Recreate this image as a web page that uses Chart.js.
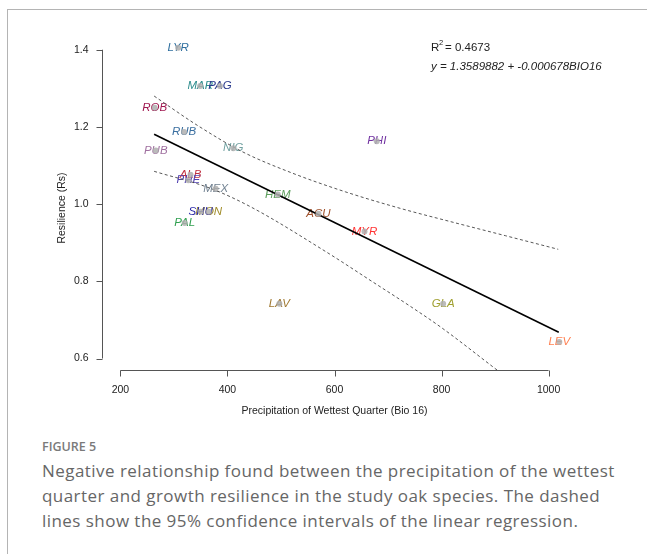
<!DOCTYPE html>
<html>
<head>
<meta charset="utf-8">
<script src="https://cdn.jsdelivr.net/npm/chart.js@4"></script>
<style>
  body { margin:0; background:#fff; }
  #wrap { position:relative; width:647px; height:554px; overflow:hidden; }
  #frame { position:absolute; left:7px; top:9px; width:660px; height:600px;
           border-top:1px solid #b4b4b4; border-left:1px solid #b4b4b4; }
  #canv { position:absolute; left:0; top:0; }
  #figno { position:absolute; left:42px; top:439px; font:600 12.5px "Open Sans"; line-height:16px; color:#7a7a7a; }
  #cap { position:absolute; left:42px; top:458px; width:584px; font:400 17px "Open Sans"; letter-spacing:0.45px;
         line-height:25px; color:#666; }
</style>
</head>
<body>
<div id="wrap">
  <div id="frame"></div>
  <canvas id="canv" width="647" height="430"></canvas>
  <div id="figno">FIGURE 5</div>
  <div id="cap">Negative relationship found between the precipitation of the wettest quarter and growth resilience in the study oak species. The dashed lines show the 95% confidence intervals of the linear regression.</div>
</div>
<script>
	// ******************************************************** DATA
	var species  = [ "LYR","MAR","PAG","ROB","RUB","PUB","NIG","PHI","ALB","PHE","MEX","HEM","ACU","MYR","MON","SHU","PAL","LAV","GLA","LEV" ];
	var bio16    = [ 308, 349, 386, 264, 319, 266, 411, 679, 331, 327, 378, 494, 570, 656, 365, 350, 320, 497, 803, 1020 ];
	var resil    = [ 1.405, 1.306, 1.306, 1.250, 1.187, 1.139, 1.145, 1.163, 1.076, 1.062, 1.040, 1.025, 0.975, 0.929, 0.980, 0.980, 0.951, 0.742, 0.742, 0.643 ];
	var colours  = [ "#2f6f9f","#2b8c8c","#28388c","#a01850","#3b6fa0","#a070a0","#6f9f9f","#7030a0","#c03040","#5040b0",
	                 "#708090","#5fa05f","#a0522d","#ff3333","#a08c28","#2828a8","#30a050","#a07830","#a0a030","#ff7f50" ];

	var fitX     = [ 263, 1019 ];
	var fitY     = [ 1.181, 0.668 ];
	var upperX   = [ 263, 345, 429, 520, 620, 723, 816, 920, 1018 ];
	var upperY   = [ 1.280, 1.203, 1.135, 1.081, 1.032, 0.989, 0.955, 0.918, 0.883 ];
	var lowerX   = [ 263, 368, 442, 586, 672, 742, 800, 904 ];
	var lowerY   = [ 1.085, 1.041, 0.994, 0.875, 0.798, 0.735, 0.680, 0.570 ];

	var xTicks   = [ 200, 400, 600, 800, 1000 ];
	var yTicks   = [ 0.6, 0.8, 1.0, 1.2, 1.4 ];
	var yTickLab = [ "0.6", "0.8", "1.0", "1.2", "1.4" ];

	function pts(xs, ys) { return xs.map(function(x, i){ return { x: x, y: ys[i] }; }); }

	// ******************************************************** PLUGINS

	var speciesLabels = {
		id: 'speciesLabels',
		beforeDatasetsDraw: function(chart) {
			var ctx = chart.ctx, meta = chart.getDatasetMeta(0);
			ctx.save();
			ctx.font = 'italic 11.5px "Liberation Sans"';
			ctx.textAlign = 'center';
			ctx.textBaseline = 'middle';
			meta.data.forEach(function(el, i) {
				ctx.fillStyle = colours[i];
				ctx.fillText(species[i], el.x, el.y);
			});
			ctx.restore();
		}
	};

	var rAxes = {
		id: 'rAxes',
		afterDraw: function(chart) {
			var ctx = chart.ctx, xs = chart.scales.x, ys = chart.scales.y;
			var x0 = Math.round(chart.chartArea.left + 2.7) + 0.5;
			var y0 = Math.round(chart.chartArea.bottom - 3.8) + 0.5;
			ctx.save();
			ctx.strokeStyle = '#555';
			ctx.lineWidth = 1;
			ctx.fillStyle = '#222';
			ctx.font = '10.5px "Liberation Sans"';

			// y axis
			ctx.beginPath();
			ctx.moveTo(x0, ys.getPixelForValue(yTicks[0]));
			ctx.lineTo(x0, ys.getPixelForValue(yTicks[yTicks.length - 1]));
			yTicks.forEach(function(t) {
				var py = Math.round(ys.getPixelForValue(t)) + 0.5;
				ctx.moveTo(x0, py); ctx.lineTo(x0 - 6, py);
			});
			ctx.stroke();
			ctx.textAlign = 'right'; ctx.textBaseline = 'middle';
			yTicks.forEach(function(t, i) {
				ctx.fillText(yTickLab[i], x0 - 14, ys.getPixelForValue(t));
			});

			// x axis
			ctx.beginPath();
			ctx.moveTo(xs.getPixelForValue(xTicks[0]), y0);
			ctx.lineTo(xs.getPixelForValue(xTicks[xTicks.length - 1]), y0);
			xTicks.forEach(function(t) {
				var px = Math.round(xs.getPixelForValue(t)) + 0.5;
				ctx.moveTo(px, y0); ctx.lineTo(px, y0 + 6);
			});
			ctx.stroke();
			ctx.textAlign = 'center'; ctx.textBaseline = 'middle';
			xTicks.forEach(function(t) {
				ctx.fillText(String(t), xs.getPixelForValue(t), y0 + 20);
			});

			// titles
			ctx.fillText('Precipitation of Wettest Quarter (Bio 16)', (chart.chartArea.left + chart.chartArea.right) / 2, y0 + 41);
			ctx.save();
			ctx.translate(62, (chart.chartArea.top + chart.chartArea.bottom) / 2);
			ctx.rotate(-Math.PI / 2);
			ctx.fillText('Resilience (Rs)', 0, 0);
			ctx.restore();

			// regression text
			ctx.textAlign = 'left'; ctx.textBaseline = 'middle';
			ctx.font = '11.5px "Liberation Sans"';
			ctx.fillText('R', 431, 48);
			ctx.font = '7.5px "Liberation Sans"';
			ctx.fillText('2', 439, 43);
			ctx.font = '11.5px "Liberation Sans"';
			ctx.fillText('= 0.4673', 445, 48);
			ctx.font = 'italic 11.5px "Liberation Sans"';
			ctx.fillText('y = 1.3589882 + -0.000678BIO16', 431, 67);
			ctx.restore();
		}
	};

	// ******************************************************** CHART

	var config = {
		type: 'scatter',
		data: {
			datasets: [{
				data: pts(bio16, resil),
				pointRadius: 3,
				pointBackgroundColor: 'rgba(175,175,175,0.85)',
				pointBorderWidth: 0
			}, {
				type: 'line',
				data: pts(fitX, fitY),
				borderColor: '#000',
				borderWidth: 1.6,
				pointRadius: 0,
				fill: false
			}, {
				type: 'line',
				data: pts(upperX, upperY),
				borderColor: '#444',
				borderWidth: 0.9,
				borderDash: [3, 2.5],
				pointRadius: 0,
				cubicInterpolationMode: 'monotone',
				fill: false
			}, {
				type: 'line',
				data: pts(lowerX, lowerY),
				borderColor: '#444',
				borderWidth: 0.9,
				borderDash: [3, 2.5],
				pointRadius: 0,
				cubicInterpolationMode: 'monotone',
				fill: false
			}]
		},
		options: {
			responsive: false,
			animation: false,
			layout: { padding: { left: 99, right: 77, top: 42, bottom: 56 } },
			plugins: { legend: { display: false }, tooltip: { enabled: false } },
			scales: {
				x: { type: 'linear', min: 160, max: 1040, display: false },
				y: { type: 'linear', min: 0.56, max: 1.42, display: false }
			}
		},
		plugins: [ speciesLabels, rAxes ]
	};

	var _ctxc = document.getElementById("canv").getContext("2d");
	window.myScatter = new Chart(_ctxc, config);
</script>
</body>
</html>
